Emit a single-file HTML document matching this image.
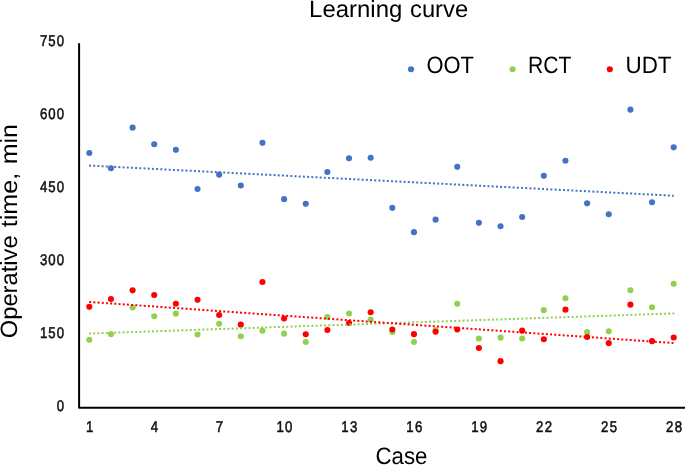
<!DOCTYPE html>
<html><head><meta charset="utf-8"><title>Learning curve</title>
<style>
html,body{margin:0;padding:0;background:#fff;}
body{width:685px;height:466px;overflow:hidden;}
svg{display:block;font-family:"Liberation Sans",sans-serif;text-rendering:geometricPrecision;will-change:transform;}
</style></head><body>
<svg width="685" height="466" viewBox="0 0 685 466">
<rect width="685" height="466" fill="#fff"/>
<text x="309.14" y="16.8" font-size="23.6" textLength="93.2" lengthAdjust="spacingAndGlyphs" fill="#000">Learning</text>
<text x="410.0" y="16.8" font-size="23.6" textLength="58.15" lengthAdjust="spacingAndGlyphs" fill="#000">curve</text>
<text transform="translate(64.00,45.90) scale(0.85,1)" text-anchor="end" font-size="15.5" textLength="28.24" lengthAdjust="spacing" fill="#111" stroke="#111" stroke-width="0.55">750</text>
<text transform="translate(64.00,118.98) scale(0.85,1)" text-anchor="end" font-size="15.5" textLength="28.24" lengthAdjust="spacing" fill="#111" stroke="#111" stroke-width="0.55">600</text>
<text transform="translate(64.00,192.06) scale(0.85,1)" text-anchor="end" font-size="15.5" textLength="28.24" lengthAdjust="spacing" fill="#111" stroke="#111" stroke-width="0.55">450</text>
<text transform="translate(64.00,265.14) scale(0.85,1)" text-anchor="end" font-size="15.5" textLength="28.24" lengthAdjust="spacing" fill="#111" stroke="#111" stroke-width="0.55">300</text>
<text transform="translate(64.00,338.22) scale(0.85,1)" text-anchor="end" font-size="15.5" textLength="28.24" lengthAdjust="spacing" fill="#111" stroke="#111" stroke-width="0.55">150</text>
<text transform="translate(64.00,411.30) scale(0.85,1)" text-anchor="end" font-size="15.5" textLength="9.41" lengthAdjust="spacing" fill="#111" stroke="#111" stroke-width="0.55">0</text>
<text transform="translate(89.60,432.20) scale(0.85,1)" text-anchor="middle" font-size="15.5" textLength="9.41" lengthAdjust="spacing" fill="#111" stroke="#111" stroke-width="0.55">1</text>
<text transform="translate(154.53,432.20) scale(0.85,1)" text-anchor="middle" font-size="15.5" textLength="9.41" lengthAdjust="spacing" fill="#111" stroke="#111" stroke-width="0.55">4</text>
<text transform="translate(219.46,432.20) scale(0.85,1)" text-anchor="middle" font-size="15.5" textLength="9.41" lengthAdjust="spacing" fill="#111" stroke="#111" stroke-width="0.55">7</text>
<text transform="translate(284.40,432.20) scale(0.85,1)" text-anchor="middle" font-size="15.5" textLength="18.82" lengthAdjust="spacing" fill="#111" stroke="#111" stroke-width="0.55">10</text>
<text transform="translate(349.33,432.20) scale(0.85,1)" text-anchor="middle" font-size="15.5" textLength="18.82" lengthAdjust="spacing" fill="#111" stroke="#111" stroke-width="0.55">13</text>
<text transform="translate(414.26,432.20) scale(0.85,1)" text-anchor="middle" font-size="15.5" textLength="18.82" lengthAdjust="spacing" fill="#111" stroke="#111" stroke-width="0.55">16</text>
<text transform="translate(479.19,432.20) scale(0.85,1)" text-anchor="middle" font-size="15.5" textLength="18.82" lengthAdjust="spacing" fill="#111" stroke="#111" stroke-width="0.55">19</text>
<text transform="translate(544.12,432.20) scale(0.85,1)" text-anchor="middle" font-size="15.5" textLength="18.82" lengthAdjust="spacing" fill="#111" stroke="#111" stroke-width="0.55">22</text>
<text transform="translate(609.06,432.20) scale(0.85,1)" text-anchor="middle" font-size="15.5" textLength="18.82" lengthAdjust="spacing" fill="#111" stroke="#111" stroke-width="0.55">25</text>
<text transform="translate(673.99,432.20) scale(0.85,1)" text-anchor="middle" font-size="15.5" textLength="18.82" lengthAdjust="spacing" fill="#111" stroke="#111" stroke-width="0.55">28</text>
<text x="375.57" y="463.9" font-size="23.6" textLength="51.92" lengthAdjust="spacingAndGlyphs" fill="#000">Case</text>
<g transform="translate(17.1,0) rotate(-90)"><text x="-338.21" y="0" font-size="23.6" textLength="102.77" lengthAdjust="spacingAndGlyphs" fill="#000">Operative</text><text x="-227.28" y="0" font-size="23.6" textLength="54.44" lengthAdjust="spacingAndGlyphs" fill="#000">time,</text><text x="-164.25" y="0" font-size="23.6" textLength="40.28" lengthAdjust="spacingAndGlyphs" fill="#000">min</text></g>
<circle cx="411" cy="69.2" r="3.05" fill="#4472C4"/>
<text x="426.57" y="73.1" font-size="23.6" textLength="47.42" lengthAdjust="spacingAndGlyphs" fill="#000">OOT</text>
<circle cx="512.6" cy="69.2" r="3.05" fill="#92D050"/>
<text x="527.97" y="73.1" font-size="23.6" textLength="43.32" lengthAdjust="spacingAndGlyphs" fill="#000">RCT</text>
<circle cx="609.8" cy="69.2" r="3.05" fill="#FF0000"/>
<text x="625.47" y="73.1" font-size="23.6" textLength="46.04" lengthAdjust="spacingAndGlyphs" fill="#000">UDT</text>
<circle cx="89.30" cy="153.05" r="3.05" fill="#4472C4"/>
<circle cx="110.94" cy="168.25" r="3.05" fill="#4472C4"/>
<circle cx="132.59" cy="127.65" r="3.05" fill="#4472C4"/>
<circle cx="154.23" cy="144.25" r="3.05" fill="#4472C4"/>
<circle cx="175.88" cy="149.85" r="3.05" fill="#4472C4"/>
<circle cx="197.52" cy="188.95" r="3.05" fill="#4472C4"/>
<circle cx="219.16" cy="174.65" r="3.05" fill="#4472C4"/>
<circle cx="240.81" cy="185.45" r="3.05" fill="#4472C4"/>
<circle cx="262.45" cy="142.85" r="3.05" fill="#4472C4"/>
<circle cx="284.10" cy="199.15" r="3.05" fill="#4472C4"/>
<circle cx="305.74" cy="203.85" r="3.05" fill="#4472C4"/>
<circle cx="327.38" cy="172.05" r="3.05" fill="#4472C4"/>
<circle cx="349.03" cy="158.35" r="3.05" fill="#4472C4"/>
<circle cx="370.67" cy="157.75" r="3.05" fill="#4472C4"/>
<circle cx="392.32" cy="207.85" r="3.05" fill="#4472C4"/>
<circle cx="413.96" cy="232.15" r="3.05" fill="#4472C4"/>
<circle cx="435.60" cy="219.65" r="3.05" fill="#4472C4"/>
<circle cx="457.25" cy="166.85" r="3.05" fill="#4472C4"/>
<circle cx="478.89" cy="222.85" r="3.05" fill="#4472C4"/>
<circle cx="500.54" cy="226.25" r="3.05" fill="#4472C4"/>
<circle cx="522.18" cy="217.05" r="3.05" fill="#4472C4"/>
<circle cx="543.82" cy="175.85" r="3.05" fill="#4472C4"/>
<circle cx="565.47" cy="160.75" r="3.05" fill="#4472C4"/>
<circle cx="587.11" cy="203.35" r="3.05" fill="#4472C4"/>
<circle cx="608.76" cy="214.25" r="3.05" fill="#4472C4"/>
<circle cx="630.40" cy="109.65" r="3.05" fill="#4472C4"/>
<circle cx="652.04" cy="202.25" r="3.05" fill="#4472C4"/>
<circle cx="673.69" cy="147.35" r="3.05" fill="#4472C4"/>
<circle cx="89.30" cy="339.85" r="3.05" fill="#92D050"/>
<circle cx="110.94" cy="334.15" r="3.05" fill="#92D050"/>
<circle cx="132.59" cy="307.45" r="3.05" fill="#92D050"/>
<circle cx="154.23" cy="316.25" r="3.05" fill="#92D050"/>
<circle cx="175.88" cy="313.65" r="3.05" fill="#92D050"/>
<circle cx="197.52" cy="334.45" r="3.05" fill="#92D050"/>
<circle cx="219.16" cy="323.85" r="3.05" fill="#92D050"/>
<circle cx="240.81" cy="336.25" r="3.05" fill="#92D050"/>
<circle cx="262.45" cy="330.75" r="3.05" fill="#92D050"/>
<circle cx="284.10" cy="333.65" r="3.05" fill="#92D050"/>
<circle cx="305.74" cy="341.95" r="3.05" fill="#92D050"/>
<circle cx="327.38" cy="316.95" r="3.05" fill="#92D050"/>
<circle cx="349.03" cy="313.45" r="3.05" fill="#92D050"/>
<circle cx="370.67" cy="319.65" r="3.05" fill="#92D050"/>
<circle cx="392.32" cy="331.95" r="3.05" fill="#92D050"/>
<circle cx="413.96" cy="341.95" r="3.05" fill="#92D050"/>
<circle cx="435.60" cy="330.15" r="3.05" fill="#92D050"/>
<circle cx="457.25" cy="303.85" r="3.05" fill="#92D050"/>
<circle cx="478.89" cy="338.45" r="3.05" fill="#92D050"/>
<circle cx="500.54" cy="337.65" r="3.05" fill="#92D050"/>
<circle cx="522.18" cy="338.55" r="3.05" fill="#92D050"/>
<circle cx="543.82" cy="310.15" r="3.05" fill="#92D050"/>
<circle cx="565.47" cy="298.25" r="3.05" fill="#92D050"/>
<circle cx="587.11" cy="331.95" r="3.05" fill="#92D050"/>
<circle cx="608.76" cy="331.35" r="3.05" fill="#92D050"/>
<circle cx="630.40" cy="290.25" r="3.05" fill="#92D050"/>
<circle cx="652.04" cy="307.25" r="3.05" fill="#92D050"/>
<circle cx="673.69" cy="283.85" r="3.05" fill="#92D050"/>
<circle cx="89.30" cy="306.85" r="3.05" fill="#FF0000"/>
<circle cx="110.94" cy="298.95" r="3.05" fill="#FF0000"/>
<circle cx="132.59" cy="290.35" r="3.05" fill="#FF0000"/>
<circle cx="154.23" cy="294.95" r="3.05" fill="#FF0000"/>
<circle cx="175.88" cy="303.75" r="3.05" fill="#FF0000"/>
<circle cx="197.52" cy="299.85" r="3.05" fill="#FF0000"/>
<circle cx="219.16" cy="315.05" r="3.05" fill="#FF0000"/>
<circle cx="240.81" cy="324.65" r="3.05" fill="#FF0000"/>
<circle cx="262.45" cy="281.95" r="3.05" fill="#FF0000"/>
<circle cx="284.10" cy="318.45" r="3.05" fill="#FF0000"/>
<circle cx="305.74" cy="334.25" r="3.05" fill="#FF0000"/>
<circle cx="327.38" cy="330.05" r="3.05" fill="#FF0000"/>
<circle cx="349.03" cy="322.95" r="3.05" fill="#FF0000"/>
<circle cx="370.67" cy="312.25" r="3.05" fill="#FF0000"/>
<circle cx="392.32" cy="329.55" r="3.05" fill="#FF0000"/>
<circle cx="413.96" cy="334.15" r="3.05" fill="#FF0000"/>
<circle cx="435.60" cy="331.75" r="3.05" fill="#FF0000"/>
<circle cx="457.25" cy="329.55" r="3.05" fill="#FF0000"/>
<circle cx="478.89" cy="348.05" r="3.05" fill="#FF0000"/>
<circle cx="500.54" cy="361.15" r="3.05" fill="#FF0000"/>
<circle cx="522.18" cy="330.65" r="3.05" fill="#FF0000"/>
<circle cx="543.82" cy="339.25" r="3.05" fill="#FF0000"/>
<circle cx="565.47" cy="309.65" r="3.05" fill="#FF0000"/>
<circle cx="587.11" cy="336.95" r="3.05" fill="#FF0000"/>
<circle cx="608.76" cy="343.15" r="3.05" fill="#FF0000"/>
<circle cx="630.40" cy="304.65" r="3.05" fill="#FF0000"/>
<circle cx="652.04" cy="341.15" r="3.05" fill="#FF0000"/>
<circle cx="673.69" cy="337.55" r="3.05" fill="#FF0000"/>
<line x1="89" y1="165.55" x2="673.7" y2="195.75" stroke="#4472C4" stroke-width="2" stroke-dasharray="2 2.2"/>
<line x1="89" y1="333.55" x2="674.2" y2="313.40" stroke="#92D050" stroke-width="2" stroke-dasharray="2 2.2"/>
<line x1="89.2" y1="301.95" x2="673.4" y2="343.05" stroke="#FF0000" stroke-width="2" stroke-dasharray="2 2.2"/>
<path d="M79.1 43.9 V407.85 H690" fill="none" stroke="#000" stroke-width="2.0" stroke-linecap="round" stroke-linejoin="round"/>
</svg>
</body></html>
